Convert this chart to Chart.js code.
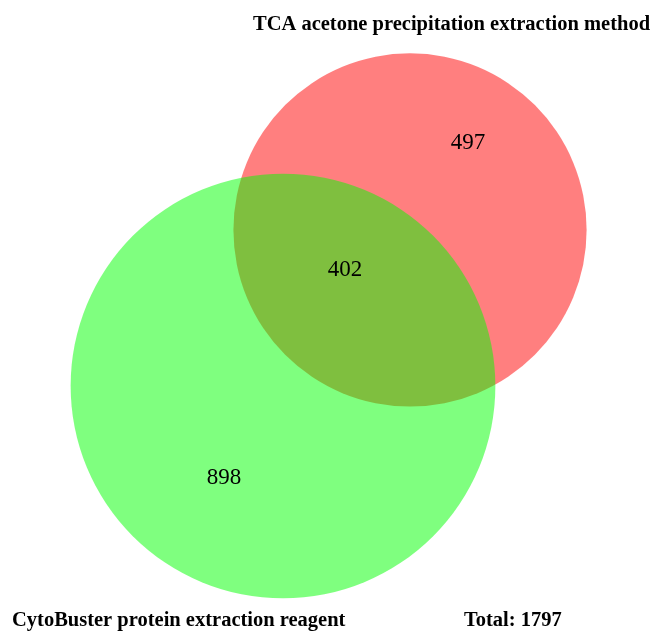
<!DOCTYPE html>
<html>
<head>
<meta charset="utf-8">
<script src="https://cdn.jsdelivr.net/npm/chart.js@4/dist/chart.umd.min.js"></script>
<style>
  body { margin: 0; background: #fff; }
  #wrap { width: 650px; height: 632px; position: relative; }
</style>
</head>
<body>
<div id="wrap"><canvas id="venn"></canvas></div>
<script>
// Venn data: green set first, red set second
const setNames = ['CytoBuster protein extraction reagent', 'TCA acetone precipitation extraction method'];
const onlyCounts = [898, 497];
const sharedCount = 402;
const setColors = ['rgba(0, 255, 0, 0.5)', 'rgba(255, 0, 0, 0.5)'];

// Layout (pixels in a 650 x 632 frame)
const pxPerRootCount = 5.89;
const greenCenter = { x: 283, y: 386 };
const axisAngle = Math.atan2(-156, 127);
const labelSpots = {
    green: { x: 224, y: 478 },
    shared: { x: 345, y: 270 },
    red: { x: 468, y: 143 }
};

const totals = onlyCounts.map(c => c + sharedCount);
const grandTotal = onlyCounts[0] + onlyCounts[1] + sharedCount;
const radii = totals.map(t => pxPerRootCount * Math.sqrt(t));

// Overlap area of two circles at distance d
function lensArea(r1, r2, d) {
    const a = (d * d + r1 * r1 - r2 * r2) / (2 * d);
    const b = d - a;
    const h = Math.sqrt(Math.max(r1 * r1 - a * a, 0));
    return r1 * r1 * Math.acos(a / r1) - a * h + r2 * r2 * Math.acos(b / r2) - b * h;
}

// Find center distance so the lens area matches the shared count
function solveDistance(r1, r2, target) {
    let lo = Math.abs(r1 - r2) + 0.01, hi = r1 + r2 - 0.01;
    for (let i = 0; i < 60; i++) {
        const mid = (lo + hi) / 2;
        if (lensArea(r1, r2, mid) > target) lo = mid; else hi = mid;
    }
    return (lo + hi) / 2;
}

const areaPerCount = Math.PI * pxPerRootCount * pxPerRootCount;
const dist = solveDistance(radii[0], radii[1], sharedCount * areaPerCount);
const redCenter = {
    x: greenCenter.x + dist * Math.cos(axisAngle),
    y: greenCenter.y + dist * Math.sin(axisAngle)
};

// red drawn first, green on top
const points = [
    { x: redCenter.x, y: redCenter.y, r: radii[1] },
    { x: greenCenter.x, y: greenCenter.y, r: radii[0] }
];

const vennText = {
    id: 'vennText',
    afterDatasetsDraw(chart) {
        const ctx = chart.ctx;
        const xs = chart.scales.x, ys = chart.scales.y;
        ctx.save();
        ctx.fillStyle = '#000';
        ctx.textAlign = 'center';
        ctx.textBaseline = 'middle';
        ctx.font = '23px "Liberation Serif", serif';
        const counts = [
            [labelSpots.green, onlyCounts[0]],
            [labelSpots.shared, sharedCount],
            [labelSpots.red, onlyCounts[1]]
        ];
        counts.forEach(([p, v]) => {
            ctx.fillText(String(v), xs.getPixelForValue(p.x), ys.getPixelForValue(p.y));
        });

        ctx.font = 'bold 20.5px "Liberation Serif", serif';
        ctx.textAlign = 'left';
        ctx.fillText(setNames[1], 253, 25);
        ctx.fillText(setNames[0], 12, 621);
        ctx.fillText('Total: ' + grandTotal, 464, 621);
        ctx.restore();
    }
};

new Chart(document.getElementById('venn'), {
    type: 'bubble',
    data: {
        datasets: [{
            data: points,
            backgroundColor: [setColors[1], setColors[0]],
            borderWidth: 0,
            hoverBorderWidth: 0
        }]
    },
    options: {
        responsive: true,
        maintainAspectRatio: false,
        animation: false,
        events: [],
        layout: { padding: 0, autoPadding: false },
        clip: false,
        plugins: {
            legend: { display: false },
            tooltip: { enabled: false }
        },
        scales: {
            x: { type: 'linear', min: 0, max: 650, display: false },
            y: { type: 'linear', min: 0, max: 632, reverse: true, display: false }
        }
    },
    plugins: [vennText]
});
</script>
</body>
</html>
